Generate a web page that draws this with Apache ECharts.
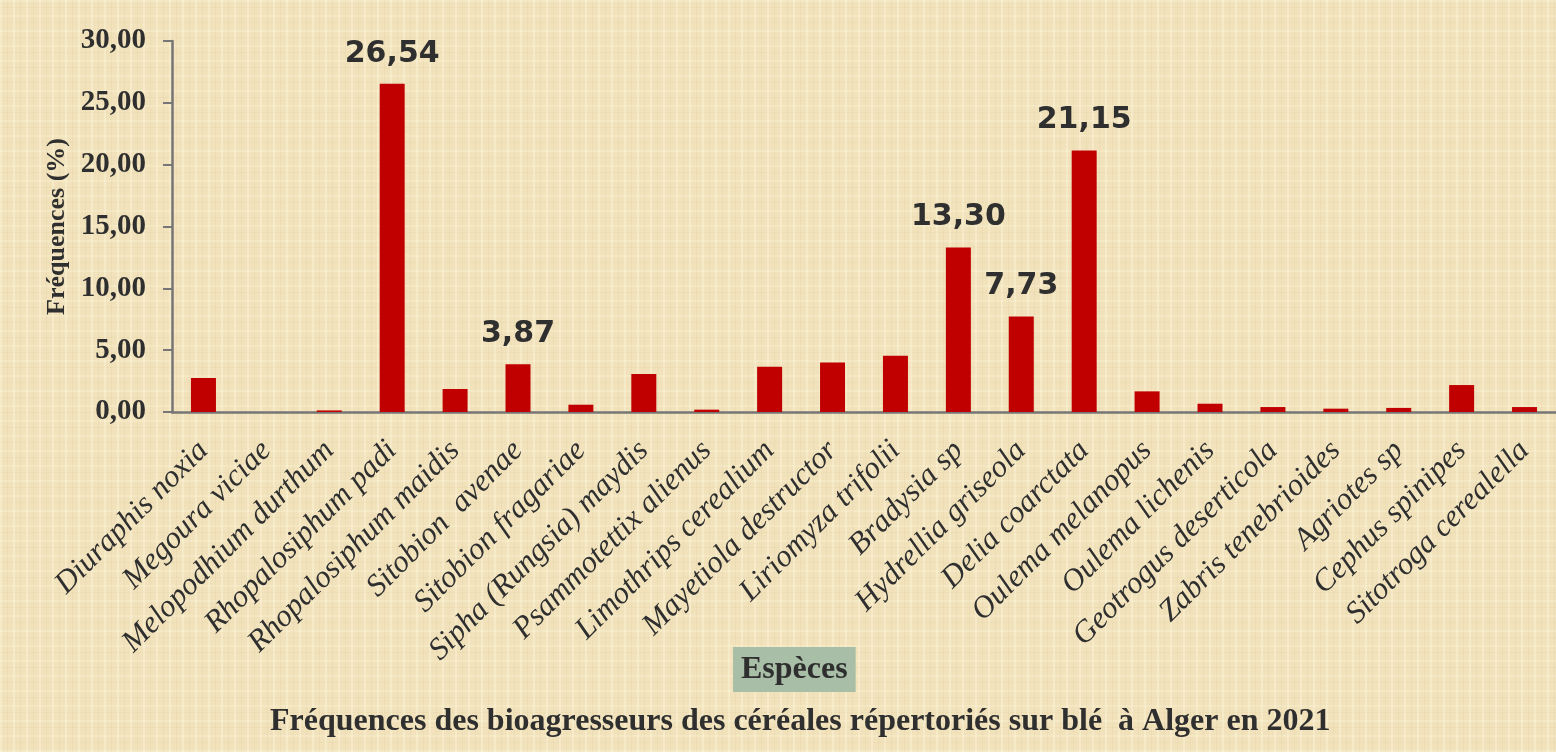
<!DOCTYPE html>
<html>
<head>
<meta charset="utf-8">
<script src="https://cdn.jsdelivr.net/npm/echarts@6/dist/echarts.min.js"></script>
<style>
  html, body { margin: 0; padding: 0; }
  body {
    width: 1556px; height: 752px; overflow: hidden;
    background-color: #f1e2bb;
    background-image:
      repeating-linear-gradient(90deg, rgba(255,250,225,0.35) 0 2px, rgba(0,0,0,0) 2px 7px, rgba(200,180,130,0.12) 7px 8px, rgba(0,0,0,0) 8px 13px),
      repeating-linear-gradient(0deg, rgba(255,250,225,0.25) 0 2px, rgba(0,0,0,0) 2px 9px, rgba(200,180,130,0.10) 9px 10px, rgba(0,0,0,0) 10px 15px);
  }
  #main { width: 1556px; height: 752px; }
</style>
</head>
<body>
<div id="main"></div>
<script>
  // especes (axe des x)
  const especes = [
    'Diuraphis noxia', 'Megoura viciae', 'Melopodhium durthum', 'Rhopalosiphum padi',
    'Rhopalosiphum maidis', 'Sitobion  avenae', 'Sitobion fragariae', 'Sipha (Rungsia) maydis',
    'Psammotettix alienus', 'Limothrips cerealium', 'Mayetiola destructor', 'Liriomyza trifolii',
    'Bradysia sp', 'Hydrellia griseola', 'Delia coarctata', 'Oulema melanopus',
    'Oulema lichenis', 'Geotrogus deserticola', 'Zabris tenebrioides', 'Agriotes sp',
    'Cephus spinipes', 'Sitotroga cerealella'
  ]
  // frequences (%)
  const frequences = [
    2.75, 0, 0.13, 26.54,
    1.86, 3.87, 0.59, 3.07,
    0.19, 3.66, 4.01, 4.55,
    13.30, 7.73, 21.15, 1.67,
    0.67, 0.40, 0.27, 0.33,
    2.18, 0.40
  ]
  // especes dont la valeur est affichee
  const etiquetees = ['Rhopalosiphum padi', 'Sitobion  avenae', 'Bradysia sp', 'Hydrellia griseola', 'Delia coarctata']
  const yTicks = [0, 5, 10, 15, 20, 25, 30]

  const fmt = (v) => v.toFixed(2).replace('.', ',')
  const serif = '"Liberation Serif", "Times New Roman", serif'
  const txt = '#2f2f2f'
  const axisGray = '#767676'

  const chart = echarts.init(document.getElementById('main'))
  const option = {
    backgroundColor: 'transparent',
    animation: false,
    title: [
      {
        text: 'Espèces',
        left: 733,
        top: 647,
        padding: [6, 8],
        backgroundColor: '#a8bea6',
        textStyle: { fontFamily: serif, fontWeight: 'bold', fontSize: 32, lineHeight: 33, color: txt },
      },
      {
        text: 'Fréquences des bioagresseurs des céréales répertoriés sur blé  à Alger en 2021',
        left: 270,
        top: 705,
        padding: 0,
        textStyle: { fontFamily: serif, fontWeight: 'bold', fontSize: 32, lineHeight: 34, color: txt },
      },
    ],
    grid: { left: 172, top: 41, width: 1388, height: 371, containLabel: false },
    xAxis: {
      type: 'category',
      data: especes,
      axisLine: { lineStyle: { color: axisGray, width: 2.5 } },
      axisTick: { length: 9, lineStyle: { color: axisGray, width: 2 } },
      axisLabel: {
        interval: 0,
        rotate: 45,
        margin: 34,
        fontFamily: serif,
        fontStyle: 'italic',
        fontSize: 31,
        color: txt,
      },
    },
    yAxis: {
      type: 'value',
      min: yTicks[0],
      max: yTicks[yTicks.length - 1],
      interval: 5,
      name: 'Fréquences (%)',
      nameLocation: 'middle',
      nameRotate: 90,
      nameGap: 100,
      nameTextStyle: { fontFamily: serif, fontWeight: 'bold', fontSize: 26, color: txt },
      splitLine: { show: false },
      axisLine: { show: true, lineStyle: { color: axisGray, width: 2.5 } },
      axisTick: { show: true, length: 9, lineStyle: { color: axisGray, width: 2 } },
      axisLabel: {
        margin: 26,
        formatter: fmt,
        fontFamily: serif,
        fontWeight: 'bold',
        fontSize: 29,
        color: txt,
      },
    },
    series: [
      {
        type: 'bar',
        barWidth: 25,
        itemStyle: { color: '#c00000' },
        data: frequences.map((v, i) => ({
          value: v,
          label: {
            show: etiquetees.includes(especes[i]),
            position: 'top',
            distance: 15,
            formatter: (p) => fmt(p.value),
            fontFamily: '"DejaVu Sans", Verdana, sans-serif',
            fontWeight: 'bold',
            fontSize: 30,
            color: txt,
          },
        })),
      },
    ],
  }
  chart.setOption(option)
</script>
</body>
</html>
